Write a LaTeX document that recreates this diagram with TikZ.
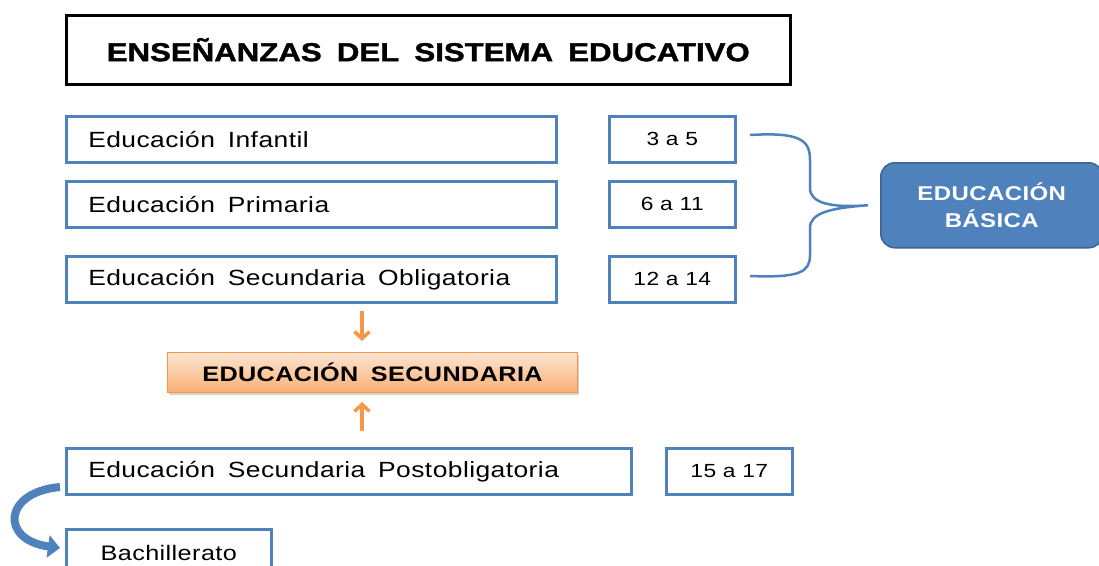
\documentclass[tikz,border=0pt]{standalone}
\usepackage{fontspec}
\setmainfont{Liberation Sans}[FakeStretch=1.2,LetterSpace=2]
\newfontfamily\titlefont{Liberation Sans Bold}[FakeStretch=1.2,FakeBold=1.5]
\usetikzlibrary{arrows.meta,shadows}
\definecolor{bblue}{HTML}{4F81BD}
\definecolor{dblue}{HTML}{3A6595}
\definecolor{orng}{HTML}{F79646}
\definecolor{lorng}{HTML}{FDE5D2}
\tikzset{
  bbox/.style={draw=bblue,line width=2.5pt,minimum height=46pt,anchor=north west,inner sep=0pt},
  agebox/.style={bbox,minimum width=126pt,font=\fontsize{19}{20}\selectfont},
  lvl/.style={bbox,text width=#1,align=left,font=\fontsize{22}{26}\selectfont,inner xsep=22pt},
  oarrow/.style={draw=orng,line width=3.5pt,-{Straight Barb[length=7pt,width=15pt]}},
}
\newcommand{\ws}{\hspace{0.25em}\ }
\begin{document}
\begin{tikzpicture}[x=1pt,y=-1pt]
\useasboundingbox (0,0) rectangle (1099,565);
\node[draw=black,line width=2.5pt,minimum width=724pt,minimum height=69pt,anchor=north west,
  font=\fontsize{26}{28}\titlefont] (title) at (65,14)
  {ENSEÑANZAS\ws DEL\ws SISTEMA\ws EDUCATIVO};

\node[lvl=446pt,minimum width=490pt] (inf) at (65,115) {Educación\ws Infantil};
\node[lvl=446pt,minimum width=490pt] (pri) at (65,180) {Educación\ws Primaria};
\node[lvl=446pt,minimum width=490pt] (eso) at (65,255) {Educación\ws Secundaria\ws Obligatoria};

\node[agebox] (a1) at (608,115) {3 a 5};
\node[agebox] (a2) at (608,180) {6 a 11};
\node[agebox] (a3) at (608,255) {12 a 14};

\node[draw=dblue,line width=1.5pt,fill=bblue,rounded corners=14pt,minimum width=222pt,minimum height=85pt,
  anchor=north west,text=white,align=center,font=\fontsize{20}{27}\selectfont\bfseries,
  xshift=-8pt] (basica) at (888,162)
  {EDUCACIÓN\\BÁSICA};

\coordinate (b1) at (750,135);
\coordinate (b3) at (750,276);
\coordinate (bm) at ([xshift=-12pt]basica.west);
\draw[bblue,line width=2.5pt] (b1) .. controls (800,132) and (810,140) .. (810,160)
  -- (810,188) .. controls (810,203) and (830,208) .. (bm)
  (bm) .. controls (830,208) and (810,213) .. (810,228)
  -- (810,255) .. controls (810,272) and (800,278) .. (b3);

\node[draw=orng,line width=1pt,top color=lorng,bottom color=orng!75,minimum width=410pt,minimum height=40pt,
  anchor=north west,drop shadow={opacity=0.35,shadow xshift=1pt,shadow yshift=-2pt},
  font=\fontsize{21}{24}\selectfont\bfseries] (sec) at (167,352) {EDUCACIÓN\ws SECUNDARIA};

\node[lvl=521pt,minimum width=565pt] (post) at (65,447) {Educación\ws Secundaria\ws Postobligatoria};
\node[agebox] (a4) at (665,447) {15 a 17};
\node[bbox,minimum width=205pt,minimum height=47pt,font=\fontsize{21}{24}\selectfont] (bach) at (65,528) {Bachillerato};

\coordinate (d1) at (362,311);
\coordinate (u1) at (362,431);
\draw[oarrow] (d1) -- ([yshift=11pt]sec.north -| d1);
\draw[oarrow] (u1) -- ([yshift=-9pt]sec.south -| u1);

\coordinate (c1) at (60,487);
\coordinate (c2) at (60,548);
\draw[bblue,line width=8pt,-{Triangle[length=12pt,width=22pt]}] (c1) .. controls (3,492) and (0,540) .. (c2);
\end{tikzpicture}
\end{document}
